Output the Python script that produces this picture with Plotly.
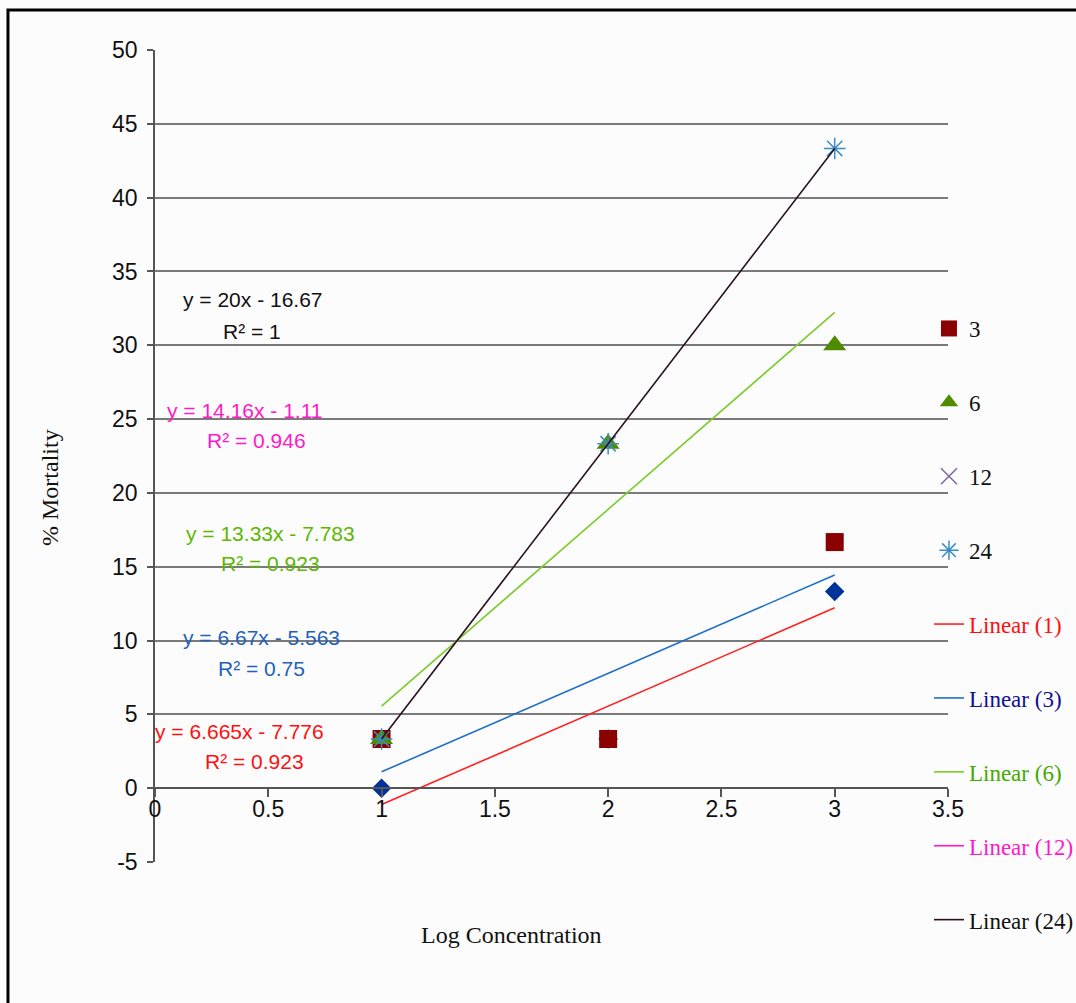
import numpy as np
import plotly.graph_objects as go

# ---- data ----
log_conc = [1, 2, 3]
mort_1 = [0.0, 3.33, 13.33]
mort_3 = [3.33, 3.33, 16.67]
mort_6 = [3.33, 23.33, 30.0]
mort_12 = [None]          # no visible points in the chart
mort_24 = [3.33, 23.33, 43.33]

y_ticks = [-5, 0, 5, 10, 15, 20, 25, 30, 35, 40, 45, 50]
y_tick_text = ["-5", "0", "5", "10", "15", "20", "25", "30", "35", "40", "45", "50"]
x_ticks = [0, 0.5, 1, 1.5, 2, 2.5, 3, 3.5]
x_tick_text = ["0", "0.5", "1", "1.5", "2", "2.5", "3", "3.5"]

eq_texts = ["y = 20x - 16.67", "R² = 1",
            "y = 14.16x - 1.11", "R² = 0.946",
            "y = 13.33x - 7.783", "R² = 0.923",
            "y = 6.67x - 5.563", "R² = 0.75",
            "y = 6.665x - 7.776", "R² = 0.923"]
eq_x = [0.433, 0.428, 0.397, 0.45, 0.508, 0.508, 0.472, 0.472, 0.375, 0.441]
eq_y = [33.07, 30.9, 25.55, 23.52, 17.22, 15.19, 10.24, 8.14, 3.87, 1.84]
eq_colors = ["#111111", "#111111", "#FF19C8", "#FF19C8", "#5DB800", "#5DB800",
             "#1F62B8", "#1F62B8", "#FF1010", "#FF1010"]

SERIF = "Liberation Serif, Times New Roman, serif"
SANS = "Liberation Sans, Arial, sans-serif"

fig = go.Figure()

def marker_trace(name, ys, symbol, color, size, show=True, lw=0):
    xs = log_conc if ys != [None] else [None]
    return go.Scatter(x=xs, y=ys, mode="markers", name=name,
                      legendgroup=name, showlegend=show,
                      marker=dict(symbol=symbol, color=color, size=size,
                                  line=dict(color=color, width=lw)))

fig.add_trace(marker_trace("1", mort_1, "diamond", "#003399", 15, show=False))
fig.add_trace(marker_trace("3", mort_3, "square", "#8B0000", 18))
fig.add_trace(marker_trace("6", mort_6, "triangle-up", "#4F8A00", 20))
fig.add_trace(marker_trace("12", mort_12, "x-thin-open", "#8064A2", 16, lw=1.5))
fig.add_trace(marker_trace("24", mort_24, "asterisk-open", "#3A8CC4", 18, lw=1.5))

def trend(name, ys, color, legend_color):
    label = f"<span style='color:{legend_color}'>{name}</span>"
    if ys == [None]:
        xs, yfit = [None], [None]
    else:
        k, b = np.polyfit(log_conc, ys, 1)
        xs = [log_conc[0], log_conc[-1]]
        yfit = [k * x + b for x in xs]
    return go.Scatter(x=xs, y=yfit, mode="lines", name=label, legendgroup=name,
                      line=dict(color=color, width=1.6))

fig.add_trace(trend("Linear (1)", mort_1, "#FF2020", "#FF1010"))
fig.add_trace(trend("Linear (3)", mort_3, "#1F6FC8", "#101090"))
fig.add_trace(trend("Linear (6)", mort_6, "#7CCB2C", "#44AA00"))
fig.add_trace(trend("Linear (12)", mort_12, "#FF19C8", "#FF19C8"))
fig.add_trace(trend("Linear (24)", mort_24, "#2A1020", "#111111"))

annotations = []
for t, x, y, c in zip(eq_texts, eq_x, eq_y, eq_colors):
    annotations.append(dict(text=t, x=x, y=y, xref="x", yref="y", showarrow=False,
                            xanchor="center", yanchor="middle",
                            font=dict(family=SANS, size=21, color=c)))
annotations.append(dict(text="Log Concentration", x=0.450, y=-0.0899, xref="paper",
                        yref="paper", showarrow=False, xanchor="center", yanchor="middle",
                        font=dict(family=SERIF, size=24, color="#111111")))
annotations.append(dict(text="% Mortality", x=-0.1324, y=0.4606, xref="paper",
                        yref="paper", showarrow=False, textangle=-90,
                        xanchor="center", yanchor="middle",
                        font=dict(family=SERIF, size=24, color="#111111")))

fig.update_layout(
    width=1076, height=1003,
    margin=dict(l=155, r=128, t=50, b=141, autoexpand=False),
    paper_bgcolor="#FCFCFC", plot_bgcolor="#FCFCFC",
    annotations=annotations,
    showlegend=True,
    legend=dict(x=0.976, xanchor="left", y=0.6835, yanchor="top",
                bgcolor="rgba(0,0,0,0)", tracegroupgap=41,
                font=dict(family=SERIF, size=23, color="#111111"),
                itemsizing="trace"),
    shapes=[dict(type="rect", xref="paper", yref="paper",
                 x0=-0.1854, x1=1.5, y0=-0.5, y1=1.0493,
                 line=dict(color="#000000", width=3), layer="below")],
    xaxis=dict(range=[0, 3.5], tickvals=x_ticks, ticktext=x_tick_text,
               anchor="free", position=5 / 55, showgrid=False, zeroline=False,
               showline=True, linecolor="#555555", linewidth=1.5,
               ticks="outside", ticklen=8, tickcolor="#555555", tickwidth=1.5,
               ticklabelstandoff=-8,
               tickfont=dict(family=SANS, size=23, color="#111111")),
    yaxis=dict(range=[-5, 50], tickvals=y_ticks, ticktext=y_tick_text, showgrid=True,
               gridcolor="#7A7A7A", gridwidth=1.6, zeroline=False,
               showline=True, linecolor="#555555", linewidth=1.5,
               ticks="outside", ticklen=6, tickcolor="#555555", tickwidth=1.5,
               ticklabelstandoff=5,
               tickfont=dict(family=SANS, size=23, color="#111111")),
)

fig.write_html("out.html")
